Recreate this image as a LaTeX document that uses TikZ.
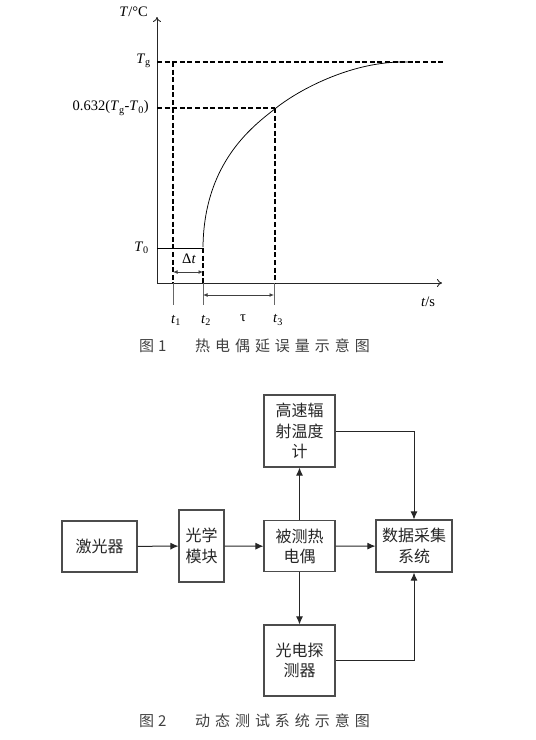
\documentclass[tikz,border=0pt]{standalone}
\usepackage{fontspec}
\setmainfont{Liberation Serif}
\newfontfamily\cjk{Noto Sans CJK SC}
\newfontfamily\cjkcap[LetterSpace=33]{Noto Sans CJK SC}
\usetikzlibrary{arrows.meta}
\begin{document}
\begin{tikzpicture}[x=1pt,y=-1pt,
  axis/.style={line width=0.9pt,draw=black!85},
  dsh/.style={line width=1.8pt,dash pattern=on 5pt off 2.6pt},
  tickline/.style={line width=0.8pt,draw=black!60},
  dimline/.style={line width=0.9pt,draw=black!75,{Latex[length=4.5pt,width=4pt]}-{Latex[length=4.5pt,width=4pt]}},
  lab/.style={font=\fontsize{14.5}{16}\selectfont,inner sep=0pt},
  box/.style={draw=black!70,line width=1.1pt,align=center,inner sep=0pt,
    font=\cjk\fontsize{16}{20.5}\selectfont,text=black!85},
  con/.style={line width=1pt,draw=black!85,-{Latex[length=8pt,width=7pt]}},
  captext/.style={font=\cjkcap\fontsize{15}{18}\selectfont,text=black!75,inner sep=0pt}]
\useasboundingbox (0,0) rectangle (536,740);
% ---------- Figure 1 ----------
\coordinate (O) at (157,283);
\coordinate (ytop) at (157,17);
\coordinate (xend) at (442,283);
\draw[axis,-{To[length=5pt,width=8pt]}] (O) -- (ytop);
\draw[axis,-{To[length=5pt,width=8pt]}] (O) -- (xend);
\node[lab,anchor=east] (ylab) at (148,12) {\textit{T}/°C};
\node[lab,anchor=north] (xlab) at (428,297) {\textit{t}/s};
% reference levels
\coordinate (tgL) at (157,62);
\coordinate (tgR) at (445,62);
\coordinate (pL) at (157,108);
\coordinate (pR) at (275,108);
\coordinate (t0L) at (157,248);
\coordinate (t0R) at (203,248);
\coordinate (a1) at (173,62);
\coordinate (a1b) at (173,283);
\coordinate (a2b) at (203,283);
\coordinate (a3b) at (275,283);
\draw[dsh] (tgL) -- (tgR);
\draw[dsh] (pL) -- (pR);
\draw[dsh] (a1) -- (a1b);
\draw[dsh] (t0R) -- (a2b);
\draw[dsh] (pR) -- (a3b);
\draw[line width=0.9pt] (t0L) -- (t0R);
% curve
\coordinate (c0) at (203,247);
\coordinate (c1) at (276,108);
\coordinate (c2) at (400,62);
\draw[line width=0.75pt] (c0) .. controls (204,160) and (256,124) .. (c1)
  .. controls (300,89) and (350,63) .. (c2) -- (410,62);
% ticks below axis
\coordinate (b1) at (173,305);
\coordinate (b2) at (203,305);
\coordinate (b3) at (274,305);
\coordinate (a3c) at (274,283);
\draw[tickline] (a1b) -- (b1);
\draw[tickline] (a2b) -- (b2);
\draw[tickline] (a3c) -- (b3);
% dimension arrows
\coordinate (d1) at (173,272);
\coordinate (d2) at (203,272);
\coordinate (e1) at (203,295);
\coordinate (e2) at (274,295);
\draw[dimline] (d1) -- (d2);
\draw[dimline] (e1) -- (e2);
% labels
\node[lab,anchor=east] (tg) at (151,61) {\textit{T}\textsubscript{g}};
\node[lab,anchor=east] (tp) at (149,108) {0.632(\textit{T}\textsubscript{g}-\textit{T}\textsubscript{0})};
\node[lab,anchor=east] (tz) at (149,248) {\textit{T}\textsubscript{0}};
\node[lab] (dt) at (189,259) {Δ\textit{t}};
\node[lab] (t1) at (176,320) {\textit{t}\textsubscript{1}};
\node[lab] (t2) at (206,320) {\textit{t}\textsubscript{2}};
\node[lab] (tau) at (243,318) {τ};
\node[lab] (t3) at (278,320) {\textit{t}\textsubscript{3}};
\node[captext,anchor=west] (c1a) at (139,346) {图\hspace{4pt}1};
\node[captext,anchor=west] (c1b) at (195,346) {热电偶延误量示意图};
% ---------- Figure 2 ----------
\node[box,minimum width=75pt,minimum height=51pt] (laser) at (99.5,546.5) {激光器};
\node[box,minimum width=45pt,minimum height=72pt] (optic) at (201.5,546) {光学\\模块};
\node[box,minimum width=71pt,minimum height=51pt] (tc) at (299.5,546.3) {被测热\\电偶};
\node[box,minimum width=71pt,minimum height=72pt] (pyro) at (299.5,431) {高速辐\\射温度\\计};
\node[box,minimum width=76pt,minimum height=52pt] (daq) at (414,546) {数据采集\\系统};
\node[box,minimum width=71pt,minimum height=71pt] (pd) at (299.5,660.5) {光电探\\测器};
\draw[con] (laser) -- (optic);
\draw[con] (optic) -- (tc);
\draw[con] (tc) -- (daq);
\draw[con] (tc) -- (pyro);
\draw[con] (tc) -- (pd);
\draw[con] (pyro.east) -| (daq.north);
\draw[con] (pd.east) -| (daq.south);
\node[captext,anchor=west] (c2a) at (139,721) {图\hspace{4pt}2};
\node[captext,anchor=west] (c2b) at (195,721) {动态测试系统示意图};
\end{tikzpicture}
\end{document}
